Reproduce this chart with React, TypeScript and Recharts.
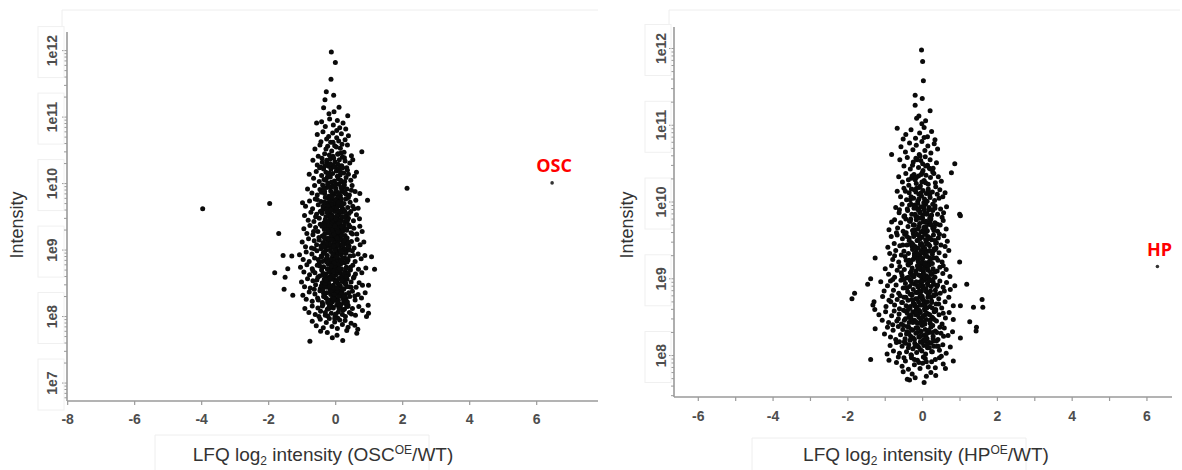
import { Scatter, ScatterChart, XAxis, YAxis } from "recharts";

// [log2 ratio, log10 intensity]
const oscCloud: [number, number][] = [
  [-0.13, 11.98], [-0.01, 11.82], [-0.14, 11.57], [-0.28, 11.38], [-0.06, 11.33], [-0.32, 11.26], [0.1, 11.15],
  [-0.36, 11.14], [0.36, 11.02], [-0.05, 11.08], [-0.2, 11.05],
  [-0.42, 10.93], [-0.18, 10.97], [0.05, 10.95], [0.22, 10.91], [-0.31, 10.86], [0.12, 10.84], [-0.07, 10.88],
  [0.3, 10.82], [-0.57, 10.91],
  [-0.55, 10.74], [-0.38, 10.78], [-0.21, 10.71], [-0.09, 10.76], [0.03, 10.69], [0.17, 10.75], [0.28, 10.66],
  [-0.44, 10.63], [-0.15, 10.62], [0.09, 10.64], [0.38, 10.72], [-0.27, 10.67],
  [-0.62, 10.52], [-0.47, 10.58], [-0.33, 10.45], [-0.24, 10.56], [-0.12, 10.49], [-0.03, 10.57], [0.06, 10.44],
  [0.14, 10.53], [0.25, 10.47], [0.35, 10.58], [0.47, 10.42], [-0.52, 10.41], [-0.08, 10.41], [0.19, 10.59],
  [0.78, 10.48],
  [-0.68, 10.35], [-0.55, 10.28], [-0.41, 10.38], [-0.36, 10.22], [-0.26, 10.31], [-0.17, 10.37], [-0.11, 10.25],
  [-0.02, 10.33], [0.04, 10.21], [0.11, 10.36], [0.18, 10.27], [0.26, 10.39], [0.33, 10.24], [0.42, 10.31],
  [0.51, 10.36], [-0.48, 10.24], [0.07, 10.29], [-0.21, 10.26],
  [-0.79, 10.14], [-0.66, 10.08], [-0.58, 10.18], [-0.49, 10.03], [-0.42, 10.12], [-0.35, 10.06], [-0.29, 10.17],
  [-0.22, 10.01], [-0.16, 10.1], [-0.09, 10.15], [-0.04, 10.04], [0.02, 10.19], [0.08, 10.07], [0.13, 10.13],
  [0.19, 10.02], [0.24, 10.16], [0.31, 10.09], [0.38, 10.14], [0.45, 10.05], [0.56, 10.11], [0.62, 10.17],
  [-0.13, 10.02],
  [-0.84, 9.92], [-0.71, 9.86], [-0.63, 9.97], [-0.55, 9.83], [-0.47, 9.91], [-0.39, 9.98], [-0.33, 9.85],
  [-0.27, 9.94], [-0.21, 9.81], [-0.15, 9.89], [-0.1, 9.96], [-0.05, 9.84], [0.0, 9.93], [0.04, 9.87],
  [0.09, 9.99], [0.14, 9.82], [0.18, 9.9], [0.23, 9.95], [0.28, 9.86], [0.34, 9.92], [0.41, 9.83],
  [0.49, 9.97], [0.58, 9.88], [0.72, 9.85], [0.95, 9.75], [-0.99, 9.71],
  [-0.9, 9.66], [-0.78, 9.74], [-0.69, 9.62], [-0.61, 9.77], [-0.52, 9.68], [-0.44, 9.73], [-0.37, 9.61],
  [-0.31, 9.79], [-0.25, 9.65], [-0.19, 9.72], [-0.14, 9.63], [-0.08, 9.76], [-0.03, 9.69], [0.01, 9.64],
  [0.05, 9.78], [0.1, 9.67], [0.15, 9.74], [0.2, 9.62], [0.25, 9.7], [0.3, 9.77], [0.36, 9.64],
  [0.43, 9.72], [0.51, 9.66], [0.6, 9.75], [0.67, 9.63], [-0.06, 9.61], [0.12, 9.8], [-0.22, 9.78],
  [-0.93, 9.52], [-0.82, 9.45], [-0.74, 9.57], [-0.65, 9.43], [-0.57, 9.54], [-0.49, 9.48], [-0.42, 9.59],
  [-0.35, 9.41], [-0.29, 9.5], [-0.23, 9.56], [-0.18, 9.44], [-0.12, 9.53], [-0.07, 9.47], [-0.02, 9.58],
  [0.02, 9.42], [0.06, 9.51], [0.11, 9.55], [0.16, 9.46], [0.21, 9.57], [0.26, 9.43], [0.32, 9.52],
  [0.38, 9.48], [0.45, 9.58], [0.53, 9.44], [0.62, 9.53], [0.71, 9.47], [-0.15, 9.59], [0.08, 9.4],
  [-0.04, 9.49], [0.19, 9.5],
  [-0.95, 9.32], [-0.86, 9.25], [-0.77, 9.37], [-0.68, 9.23], [-0.6, 9.34], [-0.53, 9.28], [-0.46, 9.39],
  [-0.4, 9.21], [-0.34, 9.31], [-0.28, 9.36], [-0.22, 9.26], [-0.17, 9.33], [-0.12, 9.22], [-0.07, 9.38],
  [-0.03, 9.29], [0.01, 9.35], [0.05, 9.24], [0.09, 9.31], [0.13, 9.37], [0.18, 9.27], [0.23, 9.34],
  [0.28, 9.22], [0.33, 9.3], [0.39, 9.38], [0.46, 9.26], [0.54, 9.33], [0.63, 9.24], [0.72, 9.36],
  [0.79, 9.28], [-1.7, 9.25], [-0.09, 9.26], [0.15, 9.21],
  [-1.0, 9.12], [-0.9, 9.05], [-0.81, 9.17], [-0.72, 9.03], [-0.64, 9.14], [-0.57, 9.08], [-0.5, 9.19],
  [-0.44, 9.02], [-0.38, 9.11], [-0.32, 9.16], [-0.26, 9.06], [-0.21, 9.13], [-0.16, 9.01], [-0.11, 9.18],
  [-0.06, 9.09], [-0.02, 9.15], [0.02, 9.04], [0.06, 9.11], [0.1, 9.17], [0.14, 9.07], [0.19, 9.14],
  [0.24, 9.02], [0.29, 9.1], [0.34, 9.18], [0.4, 9.06], [0.47, 9.13], [0.55, 9.03], [0.64, 9.16],
  [0.73, 9.08], [0.84, 9.12], [-0.13, 9.05], [0.08, 9.2], [-0.29, 9.0], [0.31, 9.01],
  [-1.08, 8.93], [-0.97, 8.86], [-0.88, 8.97], [-0.79, 8.83], [-0.71, 8.94], [-0.63, 8.88], [-0.56, 8.99],
  [-0.49, 8.82], [-0.43, 8.91], [-0.37, 8.96], [-0.31, 8.85], [-0.25, 8.92], [-0.2, 8.81], [-0.15, 8.98],
  [-0.1, 8.89], [-0.05, 8.95], [-0.01, 8.84], [0.03, 8.9], [0.07, 8.97], [0.11, 8.86], [0.16, 8.93],
  [0.21, 8.82], [0.26, 8.88], [0.31, 8.96], [0.37, 8.85], [0.43, 8.91], [0.5, 8.99], [0.58, 8.83],
  [0.67, 8.94], [0.76, 8.87], [0.87, 8.92], [1.07, 8.9], [-1.57, 8.92], [-1.31, 8.91], [-0.08, 8.81],
  [0.13, 8.99],
  [-1.05, 8.74], [-0.95, 8.67], [-0.86, 8.78], [-0.78, 8.63], [-0.7, 8.72], [-0.62, 8.66], [-0.55, 8.77],
  [-0.48, 8.61], [-0.42, 8.7], [-0.36, 8.75], [-0.3, 8.64], [-0.24, 8.71], [-0.19, 8.6], [-0.14, 8.78],
  [-0.09, 8.68], [-0.04, 8.73], [0.0, 8.62], [0.04, 8.69], [0.08, 8.76], [0.12, 8.65], [0.17, 8.72],
  [0.22, 8.61], [0.27, 8.67], [0.32, 8.74], [0.38, 8.63], [0.44, 8.7], [0.51, 8.77], [0.59, 8.64],
  [0.68, 8.71], [0.78, 8.66], [0.9, 8.73], [1.16, 8.71], [-1.43, 8.72], [-1.82, 8.66], [-0.12, 8.63],
  [0.15, 8.79],
  [-1.02, 8.52], [-0.93, 8.45], [-0.84, 8.57], [-0.76, 8.43], [-0.68, 8.54], [-0.6, 8.48], [-0.53, 8.59],
  [-0.46, 8.42], [-0.4, 8.51], [-0.34, 8.56], [-0.28, 8.44], [-0.22, 8.53], [-0.17, 8.41], [-0.12, 8.58],
  [-0.07, 8.47], [-0.02, 8.55], [0.02, 8.43], [0.06, 8.5], [0.1, 8.57], [0.14, 8.46], [0.19, 8.53],
  [0.24, 8.41], [0.29, 8.49], [0.34, 8.56], [0.4, 8.45], [0.46, 8.52], [0.53, 8.58], [0.61, 8.44],
  [0.7, 8.51], [0.8, 8.47], [0.98, 8.47], [-1.51, 8.59], [-1.54, 8.41], [-0.05, 8.42], [0.17, 8.59],
  [-0.25, 8.49],
  [-0.98, 8.32], [-0.88, 8.26], [-0.79, 8.37], [-0.7, 8.23], [-0.62, 8.34], [-0.54, 8.28], [-0.47, 8.39],
  [-0.4, 8.21], [-0.33, 8.3], [-0.27, 8.36], [-0.21, 8.25], [-0.15, 8.33], [-0.1, 8.22], [-0.05, 8.38],
  [0.0, 8.27], [0.04, 8.35], [0.08, 8.24], [0.13, 8.31], [0.18, 8.37], [0.23, 8.26], [0.29, 8.33],
  [0.35, 8.22], [0.42, 8.3], [0.5, 8.38], [0.58, 8.25], [0.67, 8.33], [0.77, 8.28], [0.88, 8.36],
  [0.97, 8.17], [-1.28, 8.32], [-0.16, 8.2], [0.11, 8.39],
  [-0.92, 8.12], [-0.8, 8.06], [-0.7, 8.16], [-0.61, 8.03], [-0.53, 8.13], [-0.45, 8.08], [-0.38, 8.18],
  [-0.31, 8.02], [-0.25, 8.11], [-0.19, 8.15], [-0.13, 8.05], [-0.07, 8.13], [-0.02, 8.01], [0.03, 8.17],
  [0.08, 8.07], [0.14, 8.14], [0.2, 8.03], [0.26, 8.11], [0.33, 8.16], [0.41, 8.06], [0.5, 8.12],
  [0.59, 8.02], [0.69, 8.15], [0.8, 8.09], [0.98, 8.05], [0.92, 8.0],
  [-0.7, 7.93], [-0.58, 7.86], [-0.46, 7.96], [-0.37, 7.83], [-0.28, 7.91], [-0.19, 7.97], [-0.11, 7.85],
  [-0.03, 7.92], [0.05, 7.82], [0.12, 7.95], [0.2, 7.88], [0.28, 7.94], [0.37, 7.84], [0.46, 7.9],
  [0.57, 7.87], [0.66, 7.81],
  [-0.77, 7.63], [-0.25, 7.76], [0.04, 7.72], [0.21, 7.64], [0.63, 7.75], [-0.45, 7.78], [0.33, 7.79],
  [-0.1, 7.68],
  [-3.97, 9.62], [-1.97, 9.7], [2.13, 9.93],
  // dense core
  [-0.29, 10.52], [-0.06, 10.38], [0.16, 10.46], [-0.19, 10.43], [0.02, 10.55], [0.28, 10.34], [-0.4, 10.32],
  [0.09, 10.23], [-0.32, 10.27], [-0.14, 10.22], [0.05, 10.11], [0.21, 10.24], [-0.25, 10.09], [-0.07, 10.28],
  [0.15, 10.05], [0.35, 10.2], [-0.45, 10.25], [0.0, 10.0], [-0.19, 10.16], [0.27, 10.03],
  [-0.36, 9.93], [-0.18, 9.78], [-0.02, 9.97], [0.12, 9.72], [0.26, 9.98], [-0.29, 9.71], [-0.11, 9.86],
  [0.07, 9.81], [0.21, 9.88], [0.38, 9.79], [-0.43, 9.87], [-0.24, 9.99], [0.02, 9.74], [0.16, 9.94],
  [-0.07, 9.7], [0.31, 9.84], [-0.55, 9.76], [0.47, 9.9],
  [-0.38, 9.66], [-0.2, 9.52], [-0.05, 9.64], [0.09, 9.45], [0.23, 9.61], [0.4, 9.55], [-0.31, 9.46],
  [-0.13, 9.69], [0.03, 9.52], [0.17, 9.66], [0.33, 9.43], [-0.46, 9.58], [-0.26, 9.62], [-0.09, 9.44],
  [0.06, 9.68], [0.27, 9.5], [-0.6, 9.5], [0.55, 9.62], [-0.16, 9.48], [0.12, 9.58],
  [-0.41, 9.36], [-0.23, 9.18], [-0.08, 9.33], [0.07, 9.14], [0.22, 9.29], [0.37, 9.12], [-0.33, 9.24],
  [-0.15, 9.39], [0.0, 9.21], [0.14, 9.36], [0.3, 9.17], [-0.49, 9.15], [-0.27, 9.31], [-0.05, 9.11],
  [0.11, 9.27], [0.26, 9.38], [-0.66, 9.28], [0.5, 9.24], [-0.19, 9.13], [0.04, 9.32], [0.43, 9.35],
  [-0.12, 9.22],
  [-0.44, 9.06], [-0.27, 8.88], [-0.12, 9.04], [0.03, 8.83], [0.18, 8.99], [0.33, 8.87], [-0.35, 8.95],
  [-0.18, 9.09], [-0.03, 8.92], [0.12, 9.07], [0.27, 8.81], [0.41, 9.0], [-0.52, 8.86], [-0.22, 8.8],
  [0.07, 8.94], [0.22, 9.08], [-0.08, 8.85], [0.53, 8.92], [-0.64, 9.02], [0.0, 9.02], [-0.4, 8.83],
  [0.36, 9.05],
  [-0.47, 8.76], [-0.31, 8.58], [-0.16, 8.72], [-0.01, 8.53], [0.14, 8.69], [0.29, 8.56], [0.44, 8.74],
  [-0.38, 8.65], [-0.22, 8.79], [-0.07, 8.6], [0.08, 8.78], [0.23, 8.52], [0.37, 8.66], [-0.56, 8.55],
  [-0.27, 8.51], [0.02, 8.67], [0.19, 8.6], [-0.12, 8.56], [0.55, 8.6], [-0.68, 8.69], [0.3, 8.72],
  [-0.03, 8.75],
  [-0.43, 8.46], [-0.29, 8.28], [-0.14, 8.43], [0.01, 8.24], [0.16, 8.4], [0.31, 8.27], [0.46, 8.44],
  [-0.36, 8.35], [-0.2, 8.49], [-0.06, 8.31], [0.09, 8.48], [0.24, 8.22], [0.39, 8.36], [-0.52, 8.25],
  [-0.24, 8.21], [0.05, 8.38], [0.2, 8.3], [-0.1, 8.27], [0.57, 8.31], [-0.64, 8.41], [0.33, 8.45],
  [-0.33, 8.45],
  [-0.4, 8.16], [-0.24, 8.01], [-0.09, 8.14], [0.06, 7.98], [0.21, 8.09], [0.37, 8.17], [-0.31, 8.06],
  [-0.15, 8.19], [0.0, 8.04], [0.15, 8.18], [0.29, 8.0], [-0.5, 8.0], [0.47, 8.04], [-0.03, 7.97],
  [-0.2, 8.12], [0.1, 8.12],
  // innermost core
  [-0.33, 9.88], [-0.17, 9.75], [0.01, 9.9], [0.17, 9.77], [-0.26, 9.57], [-0.1, 9.8], [0.06, 9.59],
  [0.22, 9.69], [-0.3, 9.41], [-0.14, 9.6], [0.0, 9.47], [0.13, 9.42], [0.28, 9.58],
  [-0.35, 9.2], [-0.2, 9.37], [-0.04, 9.24], [0.1, 9.4], [0.24, 9.15], [-0.28, 9.1], [-0.11, 9.3],
  [0.04, 9.08], [0.19, 9.22], [0.32, 9.32],
  [-0.32, 8.98], [-0.16, 8.86], [-0.01, 9.0], [0.15, 8.84], [0.29, 8.95], [-0.25, 8.72], [-0.09, 8.93],
  [0.05, 8.7], [0.2, 8.87], [-0.37, 8.62], [-0.2, 8.67], [-0.05, 8.8], [0.1, 8.57], [0.25, 8.64],
  [-0.31, 8.5], [-0.15, 8.38], [0.0, 8.52], [0.16, 8.34], [0.3, 8.5], [-0.24, 8.25], [-0.08, 8.44],
  [0.07, 8.2], [0.22, 8.42], [-0.36, 8.3], [-0.19, 8.15], [-0.03, 8.33], [0.13, 8.17], [0.27, 8.2],
  [-0.23, 10.12], [-0.03, 10.25], [0.14, 10.18], [-0.12, 9.95], [0.1, 9.85], [-0.27, 10.35], [0.2, 10.4],
  [-0.08, 10.62], [0.03, 10.8],
  [-0.13, 9.5], [0.03, 9.63], [-0.22, 9.28], [0.07, 9.27], [-0.06, 9.06], [0.14, 9.0], [-0.14, 8.76],
  [0.02, 8.9], [0.11, 8.72], [-0.27, 8.82], [-0.1, 8.61], [0.04, 8.43], [-0.18, 8.45], [0.18, 8.55],
  [-0.06, 8.27], [0.09, 8.3], [-0.12, 9.16], [0.2, 9.07], [-0.24, 9.67], [0.09, 9.72], [-0.02, 9.36],
  [-0.29, 8.55], [0.25, 8.3], [-0.34, 9.72],
  [-0.4, 9.55], [-0.36, 9.05], [0.34, 8.82], [0.35, 9.45], [-0.42, 8.9], [0.33, 8.6], [-0.39, 8.4],
  [0.36, 8.15], [-0.3, 10.05], [0.25, 9.88], [-0.16, 10.3], [0.07, 10.45], [-0.21, 9.95], [0.12, 9.16],
  [-0.07, 8.68], [0.16, 8.98], [-0.17, 8.58], [0.05, 9.18], [-0.25, 9.43], [0.18, 9.35],
];

const hpCloud: [number, number][] = [
  [-0.03, 11.98], [0.0, 11.83], [0.02, 11.58], [-0.2, 11.39], [-0.01, 11.35], [-0.2, 11.26], [0.2, 11.19],
  [-0.16, 11.09], [-0.02, 11.02], [0.08, 11.06], [-0.1, 11.12],
  [-0.68, 10.96], [-0.45, 10.88], [-0.31, 10.94], [-0.19, 10.83], [-0.08, 10.9], [0.04, 10.97], [0.13, 10.85],
  [0.24, 10.92], [0.33, 10.81], [-0.52, 10.82],
  [-0.58, 10.72], [-0.46, 10.65], [-0.35, 10.77], [-0.26, 10.68], [-0.17, 10.74], [-0.09, 10.62], [-0.02, 10.79],
  [0.06, 10.67], [0.14, 10.73], [0.22, 10.64], [0.31, 10.76], [0.4, 10.69], [-0.83, 10.62],
  [-0.61, 10.55], [-0.5, 10.47], [-0.41, 10.58], [-0.33, 10.43], [-0.25, 10.52], [-0.18, 10.57], [-0.11, 10.45],
  [-0.05, 10.54], [0.01, 10.41], [0.07, 10.59], [0.13, 10.48], [0.2, 10.55], [0.28, 10.44], [0.37, 10.51],
  [0.86, 10.5], [0.77, 10.38],
  [-0.64, 10.33], [-0.54, 10.26], [-0.45, 10.37], [-0.37, 10.22], [-0.3, 10.31], [-0.23, 10.36], [-0.17, 10.24],
  [-0.11, 10.34], [-0.06, 10.21], [-0.01, 10.38], [0.04, 10.28], [0.09, 10.35], [0.15, 10.23], [0.21, 10.32],
  [0.27, 10.39], [0.34, 10.25], [0.42, 10.33], [0.5, 10.27], [-0.2, 10.29],
  [-0.68, 10.14], [-0.59, 10.07], [-0.5, 10.18], [-0.43, 10.03], [-0.36, 10.12], [-0.3, 10.17], [-0.24, 10.05],
  [-0.18, 10.13], [-0.13, 10.01], [-0.08, 10.19], [-0.03, 10.08], [0.01, 10.15], [0.05, 10.04], [0.1, 10.11],
  [0.15, 10.17], [0.2, 10.06], [0.26, 10.13], [0.32, 10.02], [0.39, 10.1], [0.46, 10.16], [0.54, 10.07],
  [0.6, 10.12], [-0.1, 10.1],
  [-0.72, 9.93], [-0.63, 9.86], [-0.55, 9.97], [-0.48, 9.82], [-0.41, 9.91], [-0.35, 9.96], [-0.29, 9.84],
  [-0.23, 9.92], [-0.18, 9.81], [-0.13, 9.98], [-0.08, 9.88], [-0.04, 9.94], [0.0, 9.83], [0.04, 9.9],
  [0.08, 9.97], [0.12, 9.85], [0.17, 9.93], [0.22, 9.81], [0.27, 9.89], [0.33, 9.95], [0.4, 9.84],
  [0.48, 9.91], [0.56, 9.86], [0.64, 9.94], [0.99, 9.84], [1.01, 9.82],
  [-0.83, 9.74], [-0.75, 9.77], [-0.67, 9.66], [-0.59, 9.73], [-0.52, 9.62], [-0.45, 9.78], [-0.39, 9.68],
  [-0.33, 9.75], [-0.27, 9.63], [-0.22, 9.7], [-0.17, 9.77], [-0.12, 9.65], [-0.08, 9.72], [-0.04, 9.61],
  [0.0, 9.79], [0.04, 9.67], [0.08, 9.74], [0.12, 9.63], [0.17, 9.71], [0.22, 9.78], [0.27, 9.66],
  [0.33, 9.73], [0.4, 9.62], [0.47, 9.7], [0.55, 9.76], [0.63, 9.65], [-0.9, 9.64], [0.06, 9.6],
  [-0.93, 9.41], [-0.84, 9.55], [-0.76, 9.46], [-0.68, 9.57], [-0.61, 9.43], [-0.54, 9.52], [-0.48, 9.58],
  [-0.42, 9.44], [-0.36, 9.53], [-0.3, 9.47], [-0.25, 9.59], [-0.2, 9.42], [-0.15, 9.5], [-0.1, 9.56],
  [-0.06, 9.45], [-0.02, 9.54], [0.02, 9.41], [0.06, 9.58], [0.1, 9.48], [0.14, 9.55], [0.19, 9.43],
  [0.24, 9.51], [0.29, 9.57], [0.35, 9.46], [0.42, 9.53], [0.49, 9.44], [0.57, 9.56], [0.66, 9.49],
  [-0.12, 9.4], [0.08, 9.51],
  [-1.27, 9.27], [-0.88, 9.33], [-0.8, 9.25], [-0.72, 9.37], [-0.64, 9.22], [-0.57, 9.31], [-0.5, 9.36],
  [-0.44, 9.24], [-0.38, 9.33], [-0.32, 9.21], [-0.27, 9.38], [-0.22, 9.28], [-0.17, 9.35], [-0.12, 9.23],
  [-0.08, 9.3], [-0.04, 9.37], [0.0, 9.26], [0.04, 9.33], [0.08, 9.21], [0.12, 9.29], [0.16, 9.36],
  [0.21, 9.25], [0.26, 9.32], [0.31, 9.39], [0.37, 9.27], [0.44, 9.34], [0.52, 9.22], [0.6, 9.3],
  [0.7, 9.37], [0.99, 9.22], [-0.14, 9.29], [0.06, 9.39],
  [-1.0, 9.13], [-0.91, 9.06], [-0.83, 9.17], [-0.75, 9.02], [-0.68, 9.11], [-0.61, 9.16], [-0.55, 9.04],
  [-0.49, 9.12], [-0.43, 9.01], [-0.38, 9.18], [-0.33, 9.08], [-0.28, 9.14], [-0.23, 9.03], [-0.18, 9.1],
  [-0.14, 9.17], [-0.1, 9.05], [-0.06, 9.12], [-0.02, 9.01], [0.02, 9.09], [0.06, 9.16], [0.1, 9.04],
  [0.14, 9.11], [0.18, 9.18], [0.23, 9.06], [0.28, 9.13], [0.33, 9.02], [0.39, 9.1], [0.46, 9.15],
  [0.54, 9.07], [0.63, 9.12], [0.73, 9.03], [-1.39, 9.0], [-0.04, 9.19], [0.16, 9.0],
  [-1.82, 8.81], [-1.47, 8.93], [-1.12, 8.96], [-1.03, 8.84], [-0.94, 8.91], [-0.86, 8.97], [-0.78, 8.85],
  [-0.71, 8.92], [-0.64, 8.81], [-0.58, 8.98], [-0.52, 8.88], [-0.46, 8.94], [-0.4, 8.83], [-0.35, 8.9],
  [-0.3, 8.97], [-0.25, 8.86], [-0.2, 8.93], [-0.15, 8.82], [-0.11, 8.89], [-0.07, 8.96], [-0.03, 8.84],
  [0.01, 8.91], [0.05, 8.98], [0.09, 8.87], [0.13, 8.94], [0.18, 8.82], [0.23, 8.9], [0.28, 8.96],
  [0.34, 8.85], [0.4, 8.92], [0.47, 8.81], [0.55, 8.89], [0.64, 8.95], [0.74, 8.86], [0.86, 8.91],
  [1.18, 8.93],
  [-1.89, 8.74], [-1.3, 8.7], [-1.33, 8.66], [-1.28, 8.6], [-1.07, 8.77], [-0.98, 8.64], [-0.9, 8.72],
  [-0.82, 8.78], [-0.75, 8.66], [-0.68, 8.73], [-0.62, 8.61], [-0.56, 8.69], [-0.5, 8.76], [-0.44, 8.65],
  [-0.39, 8.72], [-0.34, 8.62], [-0.29, 8.79], [-0.24, 8.68], [-0.19, 8.74], [-0.15, 8.63], [-0.11, 8.7],
  [-0.07, 8.77], [-0.03, 8.66], [0.01, 8.73], [0.05, 8.61], [0.09, 8.69], [0.14, 8.76], [0.19, 8.64],
  [0.24, 8.71], [0.3, 8.78], [0.36, 8.67], [0.43, 8.74], [0.51, 8.62], [0.6, 8.7], [0.7, 8.76],
  [0.82, 8.65], [1.01, 8.65], [1.59, 8.73], [1.61, 8.63], [1.36, 8.63],
  [-1.17, 8.53], [-1.08, 8.46], [-0.99, 8.57], [-0.91, 8.43], [-0.83, 8.52], [-0.76, 8.58], [-0.69, 8.45],
  [-0.63, 8.54], [-0.57, 8.41], [-0.51, 8.59], [-0.46, 8.48], [-0.41, 8.55], [-0.36, 8.43], [-0.31, 8.51],
  [-0.26, 8.57], [-0.22, 8.46], [-0.18, 8.53], [-0.14, 8.42], [-0.1, 8.5], [-0.06, 8.56], [-0.02, 8.44],
  [0.02, 8.52], [0.06, 8.59], [0.1, 8.47], [0.15, 8.54], [0.2, 8.42], [0.25, 8.5], [0.31, 8.57],
  [0.37, 8.45], [0.44, 8.53], [0.52, 8.41], [0.61, 8.49], [0.71, 8.56], [0.82, 8.47], [1.26, 8.44],
  [-0.08, 8.58],
  [-1.27, 8.35], [-1.02, 8.28], [-0.94, 8.37], [-0.86, 8.24], [-0.79, 8.33], [-0.72, 8.21], [-0.65, 8.38],
  [-0.59, 8.27], [-0.53, 8.34], [-0.47, 8.22], [-0.42, 8.31], [-0.37, 8.37], [-0.32, 8.25], [-0.27, 8.33],
  [-0.22, 8.21], [-0.18, 8.29], [-0.13, 8.36], [-0.09, 8.24], [-0.05, 8.32], [-0.01, 8.39], [0.03, 8.26],
  [0.07, 8.34], [0.12, 8.22], [0.17, 8.3], [0.22, 8.37], [0.28, 8.25], [0.34, 8.32], [0.41, 8.21],
  [0.49, 8.29], [0.58, 8.36], [0.68, 8.26], [0.8, 8.31], [1.44, 8.37], [1.43, 8.32], [1.01, 8.23],
  [-0.87, 8.13], [-0.78, 8.06], [-0.7, 8.17], [-0.62, 8.03], [-0.55, 8.12], [-0.49, 8.18], [-0.43, 8.05],
  [-0.37, 8.14], [-0.31, 8.01], [-0.26, 8.09], [-0.21, 8.16], [-0.16, 8.04], [-0.11, 8.11], [-0.06, 8.18],
  [-0.02, 8.06], [0.03, 8.13], [0.08, 8.02], [0.13, 8.1], [0.18, 8.17], [0.24, 8.05], [0.3, 8.12],
  [0.37, 8.19], [0.45, 8.07], [0.54, 8.14], [0.63, 8.03], [0.74, 8.11], [-0.95, 8.02], [0.02, 8.2],
  [-1.39, 7.95], [-0.9, 7.94], [-0.7, 7.91], [-0.65, 7.98], [-0.55, 7.86], [-0.46, 7.93], [-0.38, 7.82],
  [-0.3, 7.97], [-0.22, 7.88], [-0.14, 7.94], [-0.07, 7.83], [0.0, 7.9], [0.07, 7.96], [0.15, 7.85],
  [0.24, 7.92], [0.34, 7.84], [0.45, 7.97], [0.82, 7.93], [0.61, 7.83], [0.55, 7.89],
  [-0.41, 7.69], [-0.35, 7.68], [0.04, 7.65], [-0.2, 7.71], [0.1, 7.73], [-0.28, 7.76], [0.22, 7.78],
  [-0.52, 7.79], [0.35, 7.74],
  // dense core
  [-0.27, 10.48], [-0.04, 10.36], [0.18, 10.44], [-0.15, 10.55], [0.08, 10.25], [0.3, 10.37], [-0.38, 10.29],
  [0.0, 10.5],
  [-0.33, 10.03], [-0.16, 10.18], [0.03, 9.99], [0.19, 10.09], [0.35, 10.2], [-0.46, 10.14], [-0.21, 9.96],
  [-0.04, 10.12], [0.12, 10.01], [0.27, 9.97], [-0.1, 10.04], [0.44, 10.05],
  [-0.4, 9.89], [-0.24, 9.7], [-0.07, 9.86], [0.09, 9.68], [0.24, 9.83], [0.39, 9.71], [-0.32, 9.78],
  [-0.15, 9.92], [0.01, 9.74], [0.16, 9.9], [0.31, 9.67], [-0.5, 9.81], [-0.1, 9.68], [0.06, 9.85],
  [0.52, 9.8], [-0.62, 9.9], [-0.2, 9.84], [0.2, 9.74],
  [-0.44, 9.6], [-0.28, 9.42], [-0.11, 9.57], [0.05, 9.37], [0.2, 9.53], [0.36, 9.4], [-0.36, 9.5],
  [-0.19, 9.64], [-0.03, 9.46], [0.12, 9.62], [0.28, 9.36], [0.45, 9.58], [-0.53, 9.44], [-0.07, 9.52],
  [0.16, 9.45], [-0.24, 9.55], [0.6, 9.42], [-0.7, 9.6], [0.01, 9.63], [0.33, 9.5],
  [-0.47, 9.29], [-0.3, 9.1], [-0.14, 9.26], [0.02, 9.07], [0.17, 9.22], [0.33, 9.09], [-0.39, 9.19],
  [-0.22, 9.33], [-0.06, 9.15], [0.09, 9.31], [0.25, 9.06], [0.41, 9.24], [-0.57, 9.08], [-0.1, 9.21],
  [0.13, 9.14], [-0.26, 9.25], [0.55, 9.17], [-0.75, 9.3], [0.05, 9.34], [0.29, 9.27], [-0.18, 9.07],
  [-0.01, 9.22],
  [-0.5, 8.99], [-0.33, 8.8], [-0.17, 8.96], [-0.01, 8.77], [0.14, 8.92], [0.3, 8.79], [0.46, 8.97],
  [-0.42, 8.88], [-0.25, 9.03], [-0.09, 8.84], [0.06, 9.01], [0.22, 8.76], [0.38, 8.9], [-0.6, 8.78],
  [-0.13, 8.9], [0.1, 8.83], [-0.29, 8.94], [0.58, 8.84], [-0.8, 8.99], [0.02, 9.04], [0.27, 8.99],
  [-0.45, 8.76],
  [-0.54, 8.69], [-0.37, 8.5], [-0.21, 8.66], [-0.05, 8.47], [0.11, 8.62], [0.27, 8.49], [0.43, 8.67],
  [-0.46, 8.58], [-0.29, 8.73], [-0.13, 8.54], [0.03, 8.71], [0.19, 8.46], [0.35, 8.6], [-0.65, 8.48],
  [-0.17, 8.6], [0.07, 8.53], [-0.33, 8.64], [0.55, 8.55], [-0.85, 8.7], [-0.01, 8.74], [0.24, 8.69],
  [-0.49, 8.46],
  [-0.51, 8.39], [-0.34, 8.2], [-0.18, 8.36], [-0.02, 8.17], [0.14, 8.32], [0.3, 8.19], [0.46, 8.37],
  [-0.43, 8.28], [-0.26, 8.43], [-0.1, 8.24], [0.06, 8.41], [0.22, 8.16], [0.38, 8.3], [-0.62, 8.18],
  [-0.14, 8.3], [0.1, 8.23], [-0.3, 8.34], [0.56, 8.25], [-0.8, 8.4], [0.02, 8.44], [0.27, 8.39],
  [-0.46, 8.16],
  [-0.38, 8.1], [-0.22, 7.95], [-0.06, 8.08], [0.1, 7.92], [0.26, 8.05], [0.42, 8.12], [-0.3, 8.0],
  [-0.14, 8.13], [0.02, 7.98], [0.18, 8.1], [-0.5, 7.97], [0.5, 7.99], [-0.1, 7.91], [0.34, 7.95],
  // innermost core
  [-0.31, 9.97], [-0.14, 9.8], [0.03, 9.94], [0.19, 9.79], [0.33, 9.92], [-0.25, 9.63], [-0.08, 9.79],
  [0.07, 9.58], [0.23, 9.7], [-0.33, 9.45], [-0.16, 9.58], [-0.01, 9.43], [0.15, 9.52], [0.3, 9.63],
  [-0.36, 9.24], [-0.2, 9.4], [-0.04, 9.27], [0.11, 9.45], [0.26, 9.2], [-0.28, 9.05], [-0.12, 9.32],
  [0.03, 9.13], [0.19, 9.27], [0.34, 9.38],
  [-0.33, 8.98], [-0.17, 8.82], [-0.02, 8.96], [0.15, 8.8], [0.3, 8.93], [-0.25, 8.68], [-0.09, 8.91],
  [0.06, 8.66], [0.21, 8.84], [-0.38, 8.6], [-0.21, 8.65], [-0.05, 8.79], [0.11, 8.55], [0.26, 8.62],
  [-0.32, 8.48], [-0.16, 8.36], [0.0, 8.5], [0.16, 8.33], [0.31, 8.47], [-0.25, 8.23], [-0.09, 8.42],
  [0.07, 8.19], [0.23, 8.4], [-0.37, 8.29], [-0.2, 8.12], [-0.04, 8.31], [0.12, 8.14], [0.28, 8.22],
  [-0.22, 10.16], [-0.02, 10.26], [0.15, 10.14], [-0.12, 9.9], [0.11, 9.84], [-0.28, 10.34], [0.21, 10.43],
  [-0.07, 10.6], [0.04, 10.84],
  [-0.13, 9.5], [0.04, 9.66], [-0.22, 9.3], [0.08, 9.3], [-0.06, 9.04], [0.15, 9.02], [-0.14, 8.74],
  [0.02, 8.88], [0.12, 8.7], [-0.28, 8.8], [-0.1, 8.59], [0.05, 8.41], [-0.18, 8.44], [0.19, 8.53],
  [-0.06, 8.25], [0.1, 8.28], [-0.12, 9.14], [0.21, 9.09], [-0.25, 9.7], [0.1, 9.75], [-0.02, 9.34],
  [-0.3, 8.53], [0.26, 8.3], [-0.35, 9.75],
  [-0.42, 9.55], [-0.38, 9.02], [0.36, 8.8], [0.37, 9.47], [-0.44, 8.88], [0.35, 8.58], [-0.41, 8.38],
  [0.38, 8.12], [-0.31, 10.07], [0.26, 9.9], [-0.17, 10.32], [0.08, 10.47], [-0.22, 9.93], [0.13, 9.18],
  [-0.07, 8.66], [0.17, 8.97], [-0.17, 8.56], [0.06, 9.2], [-0.26, 9.45], [0.19, 9.37],
];

const oscHit = [{ name: "OSC", ratio: 6.46, logI: 10.01 }];
const hpHit = [{ name: "HP", ratio: 6.28, logI: 9.16 }];

const oscXTicks = [-8, -6, -4, -2, 0, 2, 4, 6];
const oscXLabels = [-8, -6, -4, -2, 0, 2, 4, 6];
const hpXTicks = [-6, -5, -4, -3, -2, -1, 0, 1, 2, 3, 4, 5, 6];
const hpXLabels = [-6, -4, -2, 0, 2, 4, 6];
const oscDecades = [1e6, 1e7, 1e8, 1e9, 1e10, 1e11, 1e12];
const hpDecades = [1e7, 1e8, 1e9, 1e10, 1e11, 1e12];
const minorSteps = [1, 2, 3, 4, 5, 6, 7, 8, 9];

const AXIS = "#9a9a9a";
const TICK_TEXT = "#4d4d4d";
const FONT = "'Liberation Sans', Arial, sans-serif";

function toRows(cloud: [number, number][]) {
  return cloud.map(([ratio, logI]) => ({ ratio, intensity: 10 ** logI }));
}

function logTicks(decades: number[], lo: number, hi: number) {
  const out: number[] = [];
  decades.forEach((d) => minorSteps.forEach((m) => out.push(m * d)));
  return out.filter((v) => v >= lo && v <= hi);
}

function Dot(props: any) {
  return <circle cx={props.cx} cy={props.cy} r={2.5} fill="#0a0a0a" />;
}

function HitDot(props: any) {
  return (
    <g>
      <circle cx={props.cx} cy={props.cy} r={1.8} fill="#333" />
      <text
        x={props.cx + 2}
        y={props.cy - 11}
        textAnchor="middle"
        fontSize={18}
        fontWeight={700}
        fontFamily="'Open Sans', sans-serif"
        fill="#ff0000"
      >
        {props.payload.name}
      </text>
    </g>
  );
}

function makeXTick(labels: number[], dy: number) {
  return (props: any) => {
    const { x, y, payload } = props;
    const show = labels.includes(payload.value);
    return (
      <g>
        <line x1={x} x2={x} y1={y} y2={y + 4} stroke={AXIS} strokeWidth={1.2} />
        {show && (
          <text x={x} y={y + dy} textAnchor="middle" fontSize={14} fontWeight={700} fill={TICK_TEXT} fontFamily={FONT}>
            {payload.value}
          </text>
        )}
      </g>
    );
  };
}

function makeYTick(decades: number[], off: number) {
  return (props: any) => {
    const { x, y, payload } = props;
    const major = decades.includes(payload.value);
    const exp = Math.round(Math.log10(payload.value));
    return (
      <g>
        <line x1={x - (major ? 5 : 3)} x2={x} y1={y} y2={y} stroke={AXIS} strokeWidth={1} />
        {major && (
          <g>
            <rect x={x - 29} y={y - 24} width={26} height={51} fill="none" stroke="#f0f0f0" />
            <text
              x={x - off}
              y={y}
              transform={`rotate(-90 ${x - off} ${y})`}
              textAnchor="middle"
              dominantBaseline="central"
              fontSize={14}
              fontWeight={700}
              fill={TICK_TEXT}
              fontFamily={FONT}
            >
              {`1e${exp}`}
            </text>
          </g>
        )}
      </g>
    );
  };
}

interface PanelProps {
  cloud: [number, number][];
  hit: { name: string; ratio: number; logI: number }[];
  width: number;
  top: number;
  right: number;
  yWidth: number;
  xHeight: number;
  xDomain: [number, number];
  yLog: [number, number];
  xTicks: number[];
  xLabels: number[];
  decades: number[];
  xDy: number;
  yOff: number;
}

function Panel(p: PanelProps) {
  const lo = 10 ** p.yLog[0];
  const hi = 10 ** p.yLog[1];
  const hitRows = p.hit.map((h) => ({ name: h.name, ratio: h.ratio, intensity: 10 ** h.logI }));
  return (
    <ScatterChart width={p.width} height={470} margin={{ top: p.top, right: p.right, bottom: 0, left: 0 }}>
      <XAxis
        type="number"
        dataKey="ratio"
        domain={p.xDomain}
        allowDataOverflow
        ticks={p.xTicks}
        interval={0}
        tickSize={0}
        tickMargin={0}
        tickLine={false}
        height={p.xHeight}
        axisLine={{ stroke: AXIS, strokeWidth: 1.6 }}
        tick={makeXTick(p.xLabels, p.xDy)}
      />
      <YAxis
        type="number"
        dataKey="intensity"
        scale="log"
        domain={[lo, hi]}
        allowDataOverflow
        ticks={logTicks(p.decades, lo, hi)}
        interval={0}
        tickSize={0}
        tickMargin={0}
        tickLine={false}
        width={p.yWidth}
        axisLine={{ stroke: AXIS, strokeWidth: 1.6 }}
        tick={makeYTick(p.decades, p.yOff)}
      />
      <Scatter data={toRows(p.cloud)} isAnimationActive={false} shape={Dot} />
      <Scatter data={hitRows} isAnimationActive={false} shape={HitDot} />
    </ScatterChart>
  );
}

function XTitle({ x, name }: { x: number; name: string }) {
  return (
    <text x={x} y={461} textAnchor="middle" fontSize={19} fill="#333" fontFamily={FONT}>
      LFQ log
      <tspan dy={4} fontSize={12}>2</tspan>
      <tspan dy={-4}>{` intensity (${name}`}</tspan>
      <tspan dy={-7} fontSize={12}>OE</tspan>
      <tspan dy={7}>/WT)</tspan>
    </text>
  );
}

export default function App() {
  return (
    <div style={{ position: "absolute", left: 0, top: 0, width: 1182, height: 470, background: "#fff" }}>
      <div style={{ position: "absolute", left: 0, top: 0 }}>
        <Panel
          cloud={oscCloud}
          hit={oscHit}
          width={600}
          top={32}
          right={2}
          yWidth={67}
          xHeight={69}
          xDomain={[-8.02, 7.83]}
          yLog={[6.73, 12.28]}
          xTicks={oscXTicks}
          xLabels={oscXLabels}
          decades={oscDecades}
          xDy={23}
          yOff={15}
        />
      </div>
      <div style={{ position: "absolute", left: 600, top: 0 }}>
        <Panel
          cloud={hpCloud}
          hit={hpHit}
          width={582}
          top={27}
          right={10}
          yWidth={74}
          xHeight={73}
          xDomain={[-6.65, 6.67]}
          yLog={[7.46, 12.28]}
          xTicks={hpXTicks}
          xLabels={hpXLabels}
          decades={hpDecades}
          xDy={24}
          yOff={13}
        />
      </div>
      <svg
        width={1182}
        height={470}
        style={{ position: "absolute", left: 0, top: 0, pointerEvents: "none" }}
      >
        <path d="M62 26 V10 H598" fill="none" stroke="#eeeeee" />
        <path d="M669 24 V10 H1180" fill="none" stroke="#eeeeee" />
        <path d="M155 470 V435 H429 V470" fill="none" stroke="#eeeeee" />
        <path d="M752 470 V438 H1026 V470" fill="none" stroke="#eeeeee" />
        <text
          x={17}
          y={225}
          transform="rotate(-90 17 225)"
          textAnchor="middle"
          dominantBaseline="central"
          fontSize={18}
          fill="#333"
          fontFamily={FONT}
        >
          Intensity
        </text>
        <text
          x={627}
          y={225}
          transform="rotate(-90 627 225)"
          textAnchor="middle"
          dominantBaseline="central"
          fontSize={18}
          fill="#333"
          fontFamily={FONT}
        >
          Intensity
        </text>
        <XTitle x={323} name="OSC" />
        <XTitle x={926} name="HP" />
      </svg>
    </div>
  );
}
